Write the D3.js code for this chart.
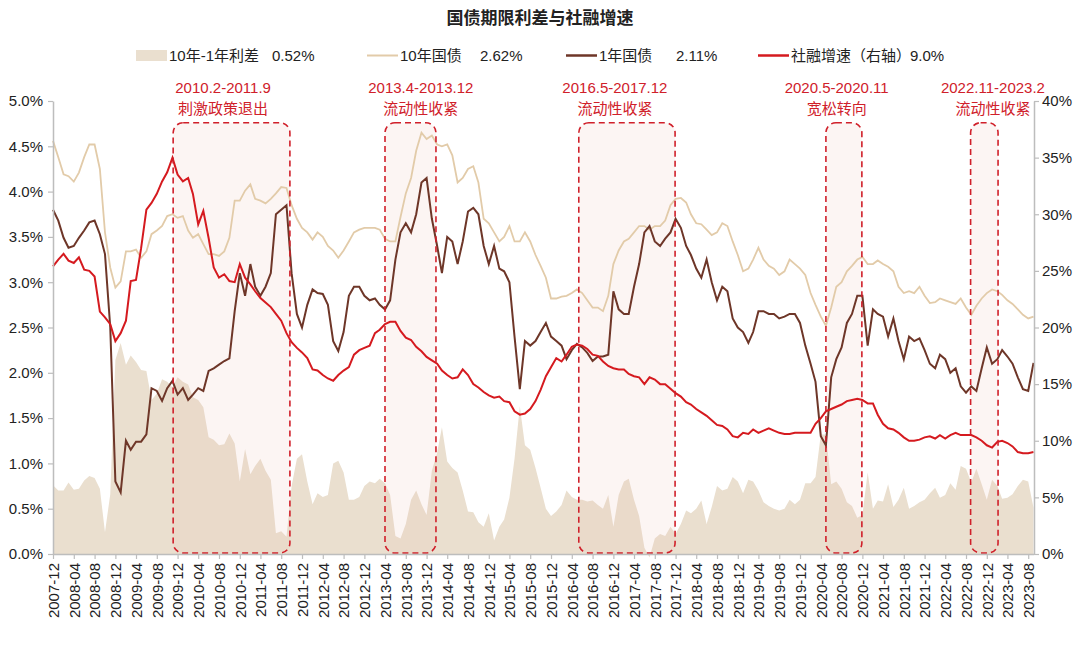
<!DOCTYPE html>
<html>
<head>
<meta charset="utf-8">
<script src="https://cdn.jsdelivr.net/npm/d3@7"></script>
<style>
  body { margin: 0; background: #fff; }
  svg text { font-family: "Liberation Sans", Arial, "Noto Sans CJK SC", sans-serif; }
</style>
</head>
<body>
<svg id="chart" width="1080" height="648"></svg>
<script>
// 月度数据：2007-12 ~ 2023-09
var startMonth = new Date(2007, 11, 1);
var endMonth = new Date(2023, 8, 1);

// 10年国债收益率 (%)
var yield10 = [
  4.56, 4.38, 4.19, 4.17, 4.11, 4.21, 4.38, 4.52, 4.52, 4.25, 3.55, 3.16,
  2.94, 3.01, 3.34, 3.34, 3.36, 3.27, 3.34, 3.53, 3.57, 3.62, 3.73, 3.75,
  3.71, 3.73, 3.57, 3.49, 3.53, 3.42, 3.31, 3.31, 3.29, 3.34, 3.49, 3.90,
  3.90, 4.01, 4.08, 3.92, 3.90, 3.87, 3.92, 3.98, 4.05, 4.04, 3.85, 3.70,
  3.60, 3.55, 3.47, 3.55, 3.50, 3.40, 3.35, 3.27, 3.35, 3.45, 3.55, 3.58,
  3.60, 3.60, 3.60, 3.58, 3.48, 3.45, 3.45, 3.72, 3.98, 4.15, 4.45, 4.65,
  4.58, 4.62, 4.52, 4.50, 4.52, 4.40, 4.10, 4.15, 4.25, 4.28, 4.10, 3.70,
  3.65, 3.55, 3.45, 3.50, 3.62, 3.45, 3.45, 3.55, 3.45, 3.30, 3.18, 3.05,
  2.82, 2.82, 2.84, 2.85, 2.88, 2.92, 2.88, 2.80, 2.72, 2.72, 2.68, 2.85,
  3.20, 3.35, 3.45, 3.48, 3.55, 3.62, 3.62, 3.58, 3.62, 3.62, 3.68, 3.85,
  3.92, 3.93, 3.88, 3.75, 3.65, 3.64, 3.58, 3.52, 3.55, 3.65, 3.62, 3.45,
  3.30, 3.12, 3.15, 3.25, 3.38, 3.25, 3.18, 3.15, 3.08, 3.12, 3.25, 3.20,
  3.15, 3.08, 2.88, 2.75, 2.62, 2.52, 2.72, 2.95, 3.00, 3.12, 3.18, 3.25,
  3.28, 3.20, 3.20, 3.24, 3.20, 3.17, 3.12, 2.95, 2.88, 2.90, 2.88, 2.95,
  2.85, 2.77, 2.78, 2.82, 2.80, 2.78, 2.76, 2.82, 2.72, 2.64, 2.74, 2.82,
  2.88, 2.92, 2.90, 2.86, 2.80, 2.76, 2.70, 2.64, 2.60, 2.62
];

// 1年国债收益率 (%)
var yield1 = [
  3.80, 3.68, 3.49, 3.38, 3.40, 3.49, 3.57, 3.66, 3.68, 3.53, 3.31, 2.50,
  0.80, 0.68, 1.25, 1.15, 1.24, 1.24, 1.32, 1.83, 1.80, 1.69, 1.83, 1.91,
  1.76, 1.83, 1.70, 1.76, 1.83, 1.80, 2.02, 2.05, 2.09, 2.13, 2.16, 2.68,
  3.10, 2.85, 3.20, 2.95, 2.85, 2.95, 3.10, 3.75, 3.80, 3.85, 3.10, 2.65,
  2.50, 2.75, 2.92, 2.88, 2.87, 2.75, 2.35, 2.24, 2.45, 2.85, 2.95, 2.95,
  2.85, 2.80, 2.82, 2.75, 2.70, 2.80, 3.25, 3.55, 3.65, 3.55, 3.75, 4.10,
  4.15, 3.70, 3.40, 3.10, 3.50, 3.45, 3.20, 3.45, 3.78, 3.82, 3.75, 3.40,
  3.20, 3.40, 3.15, 3.12, 3.00, 2.40, 1.82, 2.35, 2.30, 2.35, 2.45, 2.55,
  2.40, 2.35, 2.30, 2.15, 2.25, 2.32, 2.28, 2.22, 2.13, 2.18, 2.18, 2.20,
  2.90, 2.70, 2.65, 2.65, 2.95, 3.20, 3.55, 3.62, 3.45, 3.40, 3.48, 3.55,
  3.70, 3.60, 3.40, 3.30, 3.15, 3.05, 3.25, 3.00, 2.80, 2.95, 2.90, 2.60,
  2.50, 2.45, 2.33, 2.45, 2.68, 2.68, 2.65, 2.65, 2.60, 2.62, 2.65, 2.65,
  2.55, 2.30, 2.10, 1.90, 1.30, 1.20, 1.95, 2.15, 2.28, 2.55, 2.65, 2.85,
  2.85, 2.30, 2.70, 2.65, 2.62, 2.40, 2.60, 2.35, 2.15, 2.40, 2.35, 2.38,
  2.25, 2.10, 2.05, 2.20, 2.15, 2.00, 2.05, 1.85, 1.78, 1.85, 1.80, 2.05,
  2.28, 2.10, 2.15, 2.25, 2.18, 2.10, 1.95, 1.82, 1.80, 2.11
];

// 社融存量增速 (%, 右轴)
var tsfGrowth = [
  25.4, 26.0, 26.5, 25.9, 25.7, 26.2, 25.1, 25.0, 24.5, 21.4, 20.9, 20.3,
  18.8, 19.5, 20.6, 24.1, 24.2, 27.0, 30.4, 31.0, 31.8, 32.9, 33.7, 35.0,
  33.5, 32.9, 33.2, 31.8, 29.1, 30.3, 27.9, 25.3, 24.4, 24.7, 24.1, 24.0,
  25.6, 24.4, 23.8, 23.2, 22.6, 22.2, 21.8, 21.2, 20.6, 19.5, 18.7, 18.2,
  17.8, 17.3, 16.3, 16.2, 15.8, 15.5, 15.3, 15.8, 16.2, 16.5, 17.6, 18.0,
  18.2, 18.4, 19.5, 19.8, 20.3, 20.5, 20.5, 19.7, 19.1, 18.9, 18.3, 17.9,
  17.4, 17.1, 16.8, 16.2, 15.8, 15.5, 15.6, 16.3, 15.8, 15.0, 14.7, 14.3,
  14.0, 13.8, 13.9, 13.5, 13.4, 12.6, 12.3, 12.4, 12.8, 13.5, 14.5, 15.7,
  16.5, 17.3, 17.0, 17.6, 18.3, 18.5, 18.4, 18.1, 17.6, 17.5, 17.0, 16.6,
  16.4, 16.3, 16.3, 15.9, 15.7, 15.6, 15.0, 15.6, 15.4, 15.0, 15.0, 14.6,
  14.2, 13.9, 13.4, 13.2, 12.8, 12.5, 12.2, 11.8, 11.4, 11.3, 11.0, 10.4,
  10.3, 10.7, 10.6, 11.0, 10.7, 10.9, 11.1, 10.9, 10.7, 10.6, 10.6, 10.7,
  10.7, 10.7, 10.7, 11.5, 12.0, 12.6, 12.8, 13.0, 13.2, 13.5, 13.6, 13.7,
  13.6, 13.3, 13.3, 12.3, 11.5, 11.1, 11.0, 10.7, 10.3, 10.0, 10.0, 10.1,
  10.3, 10.4, 10.2, 10.5, 10.2, 10.5, 10.7, 10.5, 10.5, 10.5, 10.3, 10.0,
  9.6, 9.4, 9.9, 10.0, 9.8, 9.5, 9.0, 8.9, 8.9, 9.0
];

var leftTicks = [0, 0.5, 1, 1.5, 2, 2.5, 3, 3.5, 4, 4.5, 5];
var rightTicks = [0, 5, 10, 15, 20, 25, 30, 35, 40];

var legendNames = ['10年-1年利差', '10年国债', '1年国债', '社融增速（右轴）'];
var legendValues = ['0.52%', '2.62%', '2.11%', '9.0%'];

// 标注区间
var periods = [
  { title: '2010.2-2011.9', note: '刺激政策退出', from: '2009-11-05', to: '2011-09-21', labelAt: '2010-08-25' },
  { title: '2013.4-2013.12', note: '流动性收紧', from: '2013-04-01', to: '2014-01-25', labelAt: '2013-10-28' },
  { title: '2016.5-2017.12', note: '流动性收紧', from: '2016-05-12', to: '2017-11-28', labelAt: '2016-12-10' },
  { title: '2020.5-2020.11', note: '宽松转向', from: '2020-05-01', to: '2020-11-28', labelAt: '2020-07-03' },
  { title: '2022.11-2023.2', note: '流动性收紧', from: '2022-08-28', to: '2023-02-05', labelAt: '2023-01-06' }
];

var colArea = '#eadfcf', col10 = '#e2cba9', col1 = '#6e3628', colTsf = '#d51a1f', colNote = '#d0202a';

var months = d3.timeMonth.range(startMonth, d3.timeDay.offset(endMonth, 1));
var rows = months.map(function(d, i) {
  return { date: d, y10: yield10[i], y1: yield1[i], tsf: tsfGrowth[i] };
});

var svg = d3.select('#chart');
var padding = { top: 101, right: 46, bottom: 94, left: 53 };
var width = 1080, height = 648;

var x = d3.scaleTime()
  .domain([startMonth, endMonth])
  .range([padding.left, width - padding.right - 0.5]);
var yL = d3.scaleLinear().domain([0, 5]).range([height - padding.bottom, padding.top]);
var yR = d3.scaleLinear().domain([0, 40]).range([height - padding.bottom, padding.top]);
var parse = d3.timeParse('%Y-%m-%d');

// 标题
svg.append('text')
  .attr('x', 540).attr('y', 24)
  .attr('text-anchor', 'middle')
  .attr('font-size', 17).attr('font-weight', 'bold')
  .attr('fill', '#222')
  .text('国债期限利差与社融增速');

// 图例
var legendX = [136, 367, 566, 758];
var valueX = [272, 480, 676, 910];
var legendCol = [colArea, col10, col1, colTsf];
var lg = svg.append('g');
legendNames.forEach(function(name, i) {
  if (i === 0) {
    lg.append('rect').attr('x', legendX[i]).attr('y', 50).attr('width', 31).attr('height', 11).attr('fill', colArea);
  } else {
    lg.append('line').attr('x1', legendX[i]).attr('x2', legendX[i] + 31)
      .attr('y1', 55.5).attr('y2', 55.5)
      .attr('stroke', legendCol[i]).attr('stroke-width', i === 1 ? 2 : 2.5);
  }
  lg.append('text').attr('x', legendX[i] + 33).attr('y', 61)
    .attr('font-size', 15).attr('fill', '#222').text(name);
  lg.append('text').attr('x', valueX[i]).attr('y', 61)
    .attr('font-size', 15).attr('fill', '#222').text(legendValues[i]);
});

// 利差面积
var area = d3.area()
  .x(function(d) { return x(d.date); })
  .y0(yL(0))
  .y1(function(d) { return yL(d.y10 - d.y1); });
svg.append('path').datum(rows)
  .attr('d', area)
  .attr('fill', colArea);

// 区间底色
var rectTop = 4.76;
svg.append('g').selectAll('rect')
  .data(periods).enter().append('rect')
  .attr('x', function(p) { return x(parse(p.from)); })
  .attr('y', yL(rectTop))
  .attr('width', function(p) { return x(parse(p.to)) - x(parse(p.from)); })
  .attr('height', yL(0) - yL(rectTop) - 1)
  .attr('rx', 10).attr('ry', 10)
  .attr('fill', 'rgba(236, 190, 178, 0.16)');

// 折线
var line10 = d3.line().x(function(d) { return x(d.date); }).y(function(d) { return yL(d.y10); });
var line1 = d3.line().x(function(d) { return x(d.date); }).y(function(d) { return yL(d.y1); });
var lineTsf = d3.line().x(function(d) { return x(d.date); }).y(function(d) { return yR(d.tsf); });

svg.append('path').datum(rows).attr('d', line10)
  .attr('fill', 'none').attr('stroke', col10).attr('stroke-width', 1.8);
svg.append('path').datum(rows).attr('d', line1)
  .attr('fill', 'none').attr('stroke', col1).attr('stroke-width', 2);
svg.append('path').datum(rows).attr('d', lineTsf)
  .attr('fill', 'none').attr('stroke', colTsf).attr('stroke-width', 2);

// 虚线框
svg.append('g').selectAll('rect')
  .data(periods).enter().append('rect')
  .attr('x', function(p) { return x(parse(p.from)); })
  .attr('y', yL(rectTop))
  .attr('width', function(p) { return x(parse(p.to)) - x(parse(p.from)); })
  .attr('height', yL(0) - yL(rectTop) - 1)
  .attr('rx', 10).attr('ry', 10)
  .attr('fill', 'none')
  .attr('stroke', colNote).attr('stroke-width', 1.6)
  .attr('stroke-dasharray', '6,4');

// 标注文字
var notes = svg.append('g').selectAll('g').data(periods).enter().append('g');
notes.append('text')
  .attr('x', function(p) { return x(parse(p.labelAt)); })
  .attr('y', 93)
  .attr('text-anchor', 'middle').attr('font-size', 15).attr('fill', colNote)
  .text(function(p) { return p.title; });
notes.append('text')
  .attr('x', function(p) { return x(parse(p.labelAt)); })
  .attr('y', 114)
  .attr('text-anchor', 'middle').attr('font-size', 15).attr('fill', colNote)
  .text(function(p) { return p.note; });

// 坐标轴
var axisCol = '#bdbdbd';
var xAxis = d3.axisBottom(x)
  .tickValues(d3.timeMonth.range(startMonth, d3.timeDay.offset(endMonth, -1), 4))
  .tickFormat(d3.timeFormat('%Y-%m'))
  .tickSize(5).tickSizeOuter(0);
var gx = svg.append('g')
  .attr('transform', 'translate(0,' + yL(0) + ')')
  .call(xAxis);
gx.selectAll('text')
  .attr('transform', 'rotate(-90)')
  .attr('text-anchor', 'end')
  .attr('dx', '-9px').attr('dy', '0.36em')
  .attr('x', 0).attr('y', 0)
  .style('font-size', '15px').attr('fill', '#222');

var yAxisL = d3.axisLeft(yL).tickValues(leftTicks)
  .tickFormat(function(d) { return d.toFixed(1) + '%'; })
  .tickSize(5).tickSizeOuter(0);
var gyl = svg.append('g')
  .attr('transform', 'translate(' + padding.left + ',0)')
  .call(yAxisL);
gyl.selectAll('text').style('font-size', '15px').attr('fill', '#222').attr('x', -10);

var yAxisR = d3.axisRight(yR).tickValues(rightTicks)
  .tickFormat(function(d) { return d + '%'; })
  .tickSize(5).tickSizeOuter(0);
var gyr = svg.append('g')
  .attr('transform', 'translate(' + (width - padding.right) + ',0)')
  .call(yAxisR);
gyr.selectAll('text').style('font-size', '15px').attr('fill', '#222').attr('x', 8);

[gx, gyl, gyr].forEach(function(g) {
  g.select('.domain').attr('stroke', axisCol).attr('stroke-width', 1.5);
  g.selectAll('.tick line').attr('stroke', axisCol).attr('stroke-width', 1.2);
});
</script>
</body>
</html>
